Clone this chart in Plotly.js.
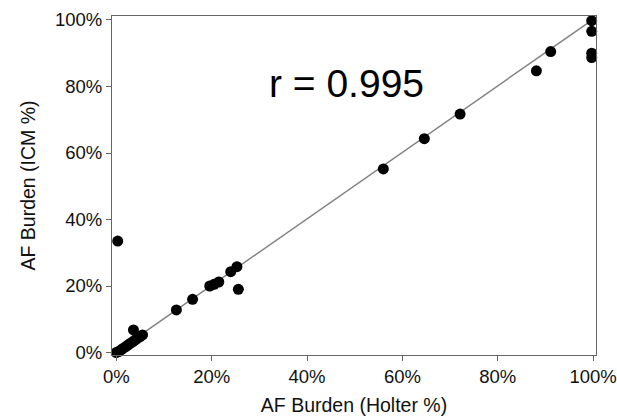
<!DOCTYPE html>
<html>
<head>
<meta charset="utf-8">
<script src="https://cdn.plot.ly/plotly-3.0.1.min.js"></script>
<style>html,body{margin:0;padding:0;background:#fff;}#chart{width:617px;height:420px;}</style>
</head>
<body>
<div id="chart"></div>
<script>
// AF burden measured by Holter (x) vs implantable cardiac monitor (y), in %
var holterPct = [0.3, 0, 0.5, 1, 1.5, 2, 2.5, 3, 3.5, 4, 4.5, 5, 5.5, 3.6, 12.6, 16, 19.6, 20.5, 21.5, 24, 25.3, 25.6, 56, 64.6, 72.1, 88.1, 91.1, 99.7, 99.7, 99.7, 99.7];
var icmPct    = [33.5, 0, 0.3, 0.8, 1.3, 1.8, 2.3, 2.8, 3.3, 3.8, 4.3, 4.8, 5.3, 6.8, 12.8, 16, 20, 20.5, 21.2, 24.3, 25.8, 19, 55.2, 64.3, 71.7, 84.7, 90.5, 99.8, 96.6, 90, 88.7];
// regression line end points
var fitX = [0, 100];
var fitY = [0.2, 100.2];
var tickVals = [0, 20, 40, 60, 80, 100];
var tickText = ["0%", "20%", "40%", "60%", "80%", "100%"];
var corrLabel = "r = 0.995";

var font = "Liberation Sans, Arial, sans-serif";

var traces = [
  {x: fitX, y: fitY, mode: "lines", type: "scatter", line: {color: "#808080", width: 1.5}, hoverinfo: "skip", cliponaxis: false},
  {x: holterPct, y: icmPct, mode: "markers", type: "scatter", marker: {color: "#000", size: 11, line: {width: 0}}, cliponaxis: false}
];

var axisCommon = {
  tickvals: tickVals, ticktext: tickText,
  ticks: "outside", ticklen: 5, tickwidth: 1, tickcolor: "#666",
  showline: true, linecolor: "#666", linewidth: 1, mirror: true,
  showgrid: false, zeroline: false,
  ticklabeloverflow: "allow",
  tickfont: {family: font, size: 18.5, color: "#111"}
};

var layout = {
  width: 617, height: 420,
  margin: {l: 112, r: 21, t: 16, b: 65},
  paper_bgcolor: "#fff", plot_bgcolor: "#fff",
  showlegend: false,
  xaxis: Object.assign({}, axisCommon, {
    range: [-0.9, 100.6],
    title: {text: "AF Burden (Holter %)", font: {family: font, size: 19.5, color: "#111"}, standoff: 12}
  }),
  yaxis: Object.assign({}, axisCommon, {
    range: [-0.75, 101.2],
    title: {text: "AF Burden (ICM %)", font: {family: font, size: 19.5, color: "#111"}, standoff: 14}
  }),
  annotations: [{
    x: 31.6, y: 81, xref: "x", yref: "y", xanchor: "left", yanchor: "middle",
    text: corrLabel, showarrow: false,
    font: {family: font, size: 39, color: "#000"}
  }]
};

Plotly.newPlot("chart", traces, layout, {displayModeBar: false, staticPlot: true});
</script>
</body>
</html>
